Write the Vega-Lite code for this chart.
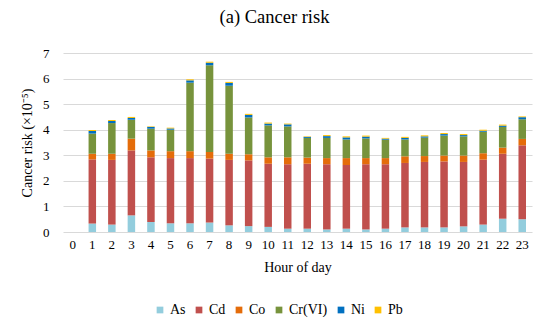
{
  "$schema": "https://vega.github.io/schema/vega-lite/v6.json",
  "autosize": "none",
  "width": 469,
  "height": 179,
  "padding": {"left": 63, "top": 53, "right": 18, "bottom": 101},
  "background": "white",
  "title": {"text": "(a) Cancer risk", "font": "Liberation Serif", "fontSize": 18.5, "fontWeight": "normal", "color": "#000000", "anchor": "middle", "frame": "group", "offset": 21, "dx": -23},
  "data": {"values": [
    {"hour": 1, "As": 0.33, "Cd": 2.51, "Co": 0.22, "Cr(VI)": 0.79, "Ni": 0.10, "Pb": 0.04},
    {"hour": 2, "As": 0.29, "Cd": 2.53, "Co": 0.24, "Cr(VI)": 1.20, "Ni": 0.08, "Pb": 0.04},
    {"hour": 3, "As": 0.65, "Cd": 2.54, "Co": 0.46, "Cr(VI)": 0.74, "Ni": 0.07, "Pb": 0.04},
    {"hour": 4, "As": 0.39, "Cd": 2.53, "Co": 0.27, "Cr(VI)": 0.85, "Ni": 0.07, "Pb": 0.02},
    {"hour": 5, "As": 0.34, "Cd": 2.55, "Co": 0.27, "Cr(VI)": 0.84, "Ni": 0.05, "Pb": 0.03},
    {"hour": 6, "As": 0.34, "Cd": 2.55, "Co": 0.27, "Cr(VI)": 2.68, "Ni": 0.09, "Pb": 0.04},
    {"hour": 7, "As": 0.37, "Cd": 2.50, "Co": 0.26, "Cr(VI)": 3.39, "Ni": 0.10, "Pb": 0.04},
    {"hour": 8, "As": 0.26, "Cd": 2.56, "Co": 0.24, "Cr(VI)": 2.66, "Ni": 0.11, "Pb": 0.04},
    {"hour": 9, "As": 0.23, "Cd": 2.57, "Co": 0.24, "Cr(VI)": 1.44, "Ni": 0.10, "Pb": 0.04},
    {"hour": 10, "As": 0.20, "Cd": 2.47, "Co": 0.25, "Cr(VI)": 1.25, "Ni": 0.07, "Pb": 0.04},
    {"hour": 11, "As": 0.13, "Cd": 2.52, "Co": 0.27, "Cr(VI)": 1.21, "Ni": 0.08, "Pb": 0.03},
    {"hour": 12, "As": 0.13, "Cd": 2.54, "Co": 0.24, "Cr(VI)": 0.77, "Ni": 0.04, "Pb": 0.02},
    {"hour": 13, "As": 0.10, "Cd": 2.55, "Co": 0.24, "Cr(VI)": 0.79, "Ni": 0.07, "Pb": 0.04},
    {"hour": 14, "As": 0.13, "Cd": 2.49, "Co": 0.27, "Cr(VI)": 0.73, "Ni": 0.08, "Pb": 0.04},
    {"hour": 15, "As": 0.10, "Cd": 2.55, "Co": 0.24, "Cr(VI)": 0.77, "Ni": 0.07, "Pb": 0.04},
    {"hour": 16, "As": 0.13, "Cd": 2.52, "Co": 0.24, "Cr(VI)": 0.72, "Ni": 0.04, "Pb": 0.03},
    {"hour": 17, "As": 0.18, "Cd": 2.52, "Co": 0.26, "Cr(VI)": 0.66, "Ni": 0.06, "Pb": 0.04},
    {"hour": 18, "As": 0.18, "Cd": 2.56, "Co": 0.23, "Cr(VI)": 0.72, "Ni": 0.05, "Pb": 0.04},
    {"hour": 19, "As": 0.18, "Cd": 2.58, "Co": 0.23, "Cr(VI)": 0.78, "Ni": 0.06, "Pb": 0.04},
    {"hour": 20, "As": 0.22, "Cd": 2.52, "Co": 0.25, "Cr(VI)": 0.75, "Ni": 0.05, "Pb": 0.04},
    {"hour": 21, "As": 0.29, "Cd": 2.54, "Co": 0.25, "Cr(VI)": 0.84, "Ni": 0.04, "Pb": 0.04},
    {"hour": 22, "As": 0.52, "Cd": 2.54, "Co": 0.24, "Cr(VI)": 0.81, "Ni": 0.05, "Pb": 0.04},
    {"hour": 23, "As": 0.50, "Cd": 2.89, "Co": 0.25, "Cr(VI)": 0.77, "Ni": 0.08, "Pb": 0.03}
  ]},
  "transform": [{"fold": ["As", "Cd", "Co", "Cr(VI)", "Ni", "Pb"], "as": ["element", "value"]}],
  "mark": {"type": "bar", "size": 7.5},
  "encoding": {
    "x": {"field": "hour", "type": "ordinal",
      "scale": {"domain": [0,1,2,3,4,5,6,7,8,9,10,11,12,13,14,15,16,17,18,19,20,21,22,23], "paddingInner": 0.1, "paddingOuter": 0.05},
      "axis": {"title": "Hour of day", "labelAngle": 0, "ticks": false, "domain": false, "grid": false, "labelPadding": 6, "titlePadding": 9}},
    "y": {"field": "value", "type": "quantitative", "stack": "zero",
      "scale": {"domain": [0, 7], "nice": false},
      "axis": {"title": "Cancer risk (×10⁻⁵)", "values": [0,1,2,3,4,5,6,7], "ticks": false, "domain": false, "labelPadding": 14, "titlePadding": 8}},
    "color": {"field": "element", "type": "nominal",
      "scale": {"domain": ["As", "Cd", "Co", "Cr(VI)", "Ni", "Pb"], "range": ["#93CDDD", "#C0504D", "#E46C0A", "#77933C", "#0070C0", "#FFC000"]},
      "legend": {"title": null, "orient": "none", "legendX": 90, "legendY": 250, "direction": "horizontal", "symbolType": "square", "symbolSize": 45, "symbolStrokeWidth": 0, "labelFontSize": 14, "columnPadding": 6, "labelOffset": 3}},
    "order": {"field": "element", "sort": "ascending"}
  },
  "config": {
    "font": "Liberation Serif",
    "view": {"stroke": null},
    "axis": {"labelFont": "Liberation Serif", "titleFont": "Liberation Serif", "labelFontSize": 13, "titleFontSize": 14, "titleFontWeight": "normal", "labelColor": "#000000", "titleColor": "#000000", "gridColor": "#D9D9D9", "gridWidth": 1},
    "legend": {"labelFont": "Liberation Serif", "labelColor": "#000000"}
  }
}
